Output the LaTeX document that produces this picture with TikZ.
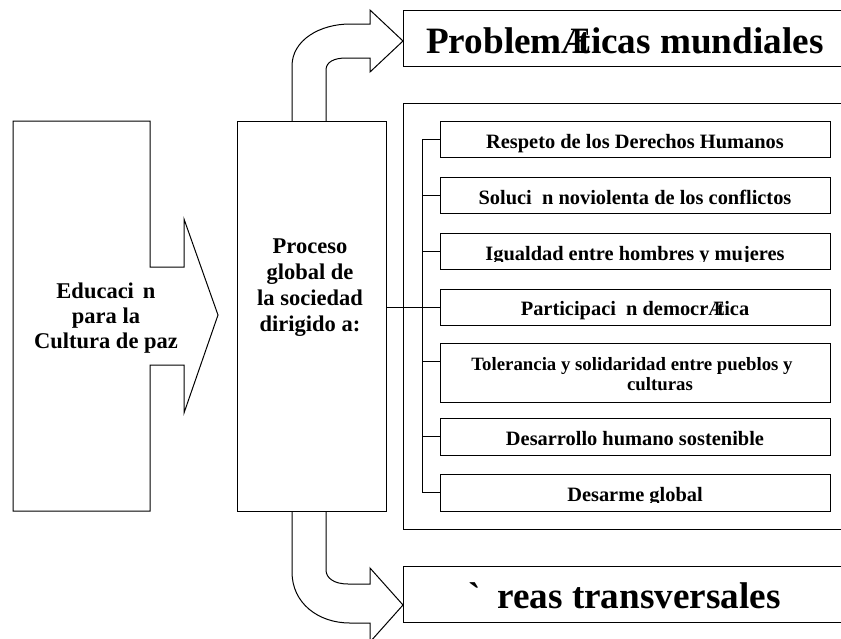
\documentclass[tikz,border=0pt]{standalone}
\usepackage{fontspec}
\newfontfamily\tnr{Liberation Serif}
\tikzset{
  ln/.style={draw=black, line width=1pt, line join=miter},
  boxs/.style={draw=black, line width=1pt, anchor=north west, inner sep=0pt, outer sep=0pt},
  stxt/.style={inner sep=0pt, anchor=base, font=\tnr\bfseries\fontsize{20.4}{24}\selectfont},
  ttxt/.style={inner sep=0pt, anchor=base west, font=\tnr\bfseries\fontsize{37.2}{40}\selectfont},
  ltxt/.style={inner sep=0pt, align=center, font=\tnr\bfseries\fontsize{22.5}{25}\selectfont},
  mtxt/.style={inner sep=0pt, align=center, font=\tnr\bfseries\fontsize{22.5}{26}\selectfont},
}
\begin{document}
\begin{tikzpicture}[x=1pt,y=-1pt]
\clip (0,0) rectangle (841,638);
\fill[white] (0,0) rectangle (841,638);

% left block arrow
\draw[ln] (13,121) -- (150,121) -- (150,267) -- (184,267) -- (184,219) -- (218,315)
  -- (184,413) -- (184,365) -- (150,365) -- (150,511) -- (13,511) -- cycle;
\node[ltxt] (edu) at (106,318) {Educaci\hspace{0.4em}n\\para la\\Cultura de paz};

% middle box
\node[boxs, minimum width=149pt, minimum height=390pt] (mid) at (237,121) {};
\node[mtxt] (midt) at (310,288) {Proceso\\global de\\la sociedad\\dirigido a:};

% top curved arrow
\draw[ln] (292,121) -- (292,66) .. controls (292,40) and (320,24) .. (350,24) -- (370,24)
  -- (370,10) -- (403,41) -- (370,72) -- (370,58) -- (346,58)
  .. controls (334,58) and (326,62) .. (326,70) -- (326,121);

% bottom curved arrow
\draw[ln] (292,511) -- (292,572) .. controls (292,603) and (318,623) .. (350,623) -- (370,623)
  -- (370,642) -- (403,605) -- (370,568) -- (370,584) -- (348,584)
  .. controls (334,584) and (326,578) .. (326,570) -- (326,511);

% big boxes
\node[boxs, minimum width=447pt, minimum height=56pt] (prob) at (403,10) {};
\node[ttxt] (probt) at (426,53) {Problem\rlap{\scalebox{0.8}[1]{Æ}}\hspace{0.45em}ticas mundiales};
\node[boxs, minimum width=447pt, minimum height=426pt] (cont) at (403,103) {};
\node[boxs, minimum width=447pt, minimum height=56pt] (areas) at (403,566) {};
\node[ttxt] (areast) at (468,608) {`\hspace{0.45em}reas transversales};

% small boxes
\node[boxs, minimum width=390pt, minimum height=36pt] (b1) at (440,121) {};
\node[boxs, minimum width=390pt, minimum height=36pt] (b2) at (440,177) {};
\node[boxs, minimum width=390pt, minimum height=36pt] (b3) at (440,233) {};
\node[boxs, minimum width=390pt, minimum height=36pt] (b4) at (440,289) {};
\node[boxs, minimum width=390pt, minimum height=59pt] (b5) at (440,343) {};
\node[boxs, minimum width=390pt, minimum height=37pt] (b6) at (440,418) {};
\node[boxs, minimum width=390pt, minimum height=37pt] (b7) at (440,474) {};
\coordinate (c5) at (440,361);

\node[stxt] (t1) at (635,148) {Respeto de los Derechos Humanos};
\node[stxt] (t2) at (635,204) {Soluci\hspace{0.5em}n noviolenta de los conflictos};
\begin{scope}
  \clip (441,234) rectangle (829,261.5);
  \node[stxt] (t3) at (635,260) {Igualdad entre hombres y mujeres};
\end{scope}
\node[stxt] (t4) at (635,315) {Participaci\hspace{0.5em}n democr\rlap{\scalebox{0.8}[1]{Æ}}\hspace{0.45em}tica};
\node[stxt, font=\tnr\bfseries\fontsize{18.8}{20}\selectfont] (t5a) at (632,370) {Tolerancia y solidaridad entre pueblos y};
\node[stxt, font=\tnr\bfseries\fontsize{18.8}{20}\selectfont] (t5b) at (660,390) {culturas};
\node[stxt] (t6) at (635,445) {Desarrollo humano sostenible};
\begin{scope}
  \clip (441,475) rectangle (829,502.5);
  \node[stxt] (t7) at (635,501) {Desarme global};
\end{scope}

% connectors
\draw[ln] (b4.west -| mid.east) -- (b4.west);
\draw[ln] (b1.west) -- ++(-18,0) |- (b7.west);
\draw[ln] (b2.west) -- ++(-18,0);
\draw[ln] (b3.west) -- ++(-18,0);
\draw[ln] (c5) -- ++(-18,0);
\draw[ln] (b6.west) -- ++(-18,0);
\end{tikzpicture}
\end{document}
